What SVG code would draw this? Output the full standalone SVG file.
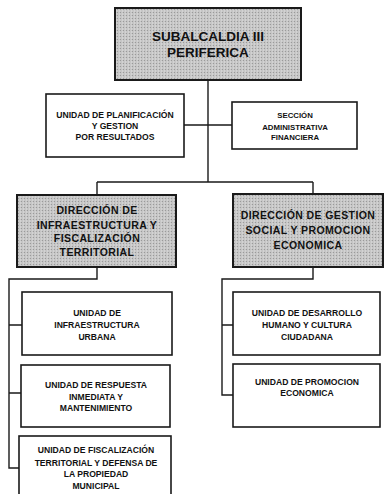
<svg xmlns="http://www.w3.org/2000/svg" width="385" height="494" viewBox="0 0 385 494">
<style>
.box{fill:#ffffff;stroke:#1a1a1a;stroke-width:1.6}
.gbox{fill:url(#dots);stroke:#1a1a1a;stroke-width:2}
.ln{fill:none;stroke:#1a1a1a;stroke-width:1.4}
text{font-family:"Liberation Sans",Arial,sans-serif;font-weight:bold;fill:#111;text-anchor:middle}
.t1{font-size:13.5px}
.t2{font-size:10.5px;letter-spacing:0.4px}
.t3{font-size:8.6px}
.t4{font-size:7.8px}
</style>
<defs>
<pattern id="dots" width="3" height="3" patternUnits="userSpaceOnUse">
<rect width="3" height="3" fill="#c6c6c6"/>
<rect width="1" height="1" fill="#9a9a9a"/>
<rect x="2" y="1.5" width="1" height="1" fill="#e0e0e0"/>
</pattern>
</defs>
<rect width="385" height="494" fill="#ffffff"/>
<g id="connectors">
<path class="ln" d="M208,80 V182 M184,125 H232 M97,182 H313 M97,182 V195 M313,182 V194"/>
<path class="ln" d="M97,267 V279 H9 V468 H19 M9,325 H22 M9,393 H21"/>
<path class="ln" d="M313,267 V279 H222 V395 H233 M222,325 H233"/>
</g>
<g id="n-subalcaldia">
<rect class="gbox" x="115" y="8" width="186" height="72"/>
<text class="t1" x="208" y="41">SUBALCALDIA III</text>
<text class="t1" x="208" y="57">PERIFERICA</text>
</g>
<g id="n-planificacion">
<rect class="box" x="46" y="94" width="138" height="63"/>
<text class="t3" x="115" y="118">UNIDAD DE PLANIFICACIÓN</text>
<text class="t3" x="115" y="129">Y GESTION</text>
<text class="t3" x="115" y="140">POR RESULTADOS</text>
</g>
<g id="n-seccion">
<rect class="box" x="232" y="102" width="125" height="47"/>
<text class="t4" x="295" y="118">SECCIÓN</text>
<text class="t4" x="295" y="130">ADMINISTRATIVA</text>
<text class="t4" x="295" y="140">FINANCIERA</text>
</g>
<g id="n-dir-infra">
<rect class="gbox" x="17" y="195" width="159" height="72"/>
<text class="t2" x="97" y="214">DIRECCIÓN DE</text>
<text class="t2" x="97" y="229">INFRAESTRUCTURA Y</text>
<text class="t2" x="97" y="242">FISCALIZACIÓN</text>
<text class="t2" x="97" y="256">TERRITORIAL</text>
</g>
<g id="n-dir-social">
<rect class="gbox" x="233" y="194" width="150" height="73"/>
<text class="t2" x="308" y="219">DIRECCIÓN DE GESTION</text>
<text class="t2" x="308" y="234">SOCIAL Y PROMOCION</text>
<text class="t2" x="308" y="249">ECONOMICA</text>
</g>
<g id="n-infra-urbana">
<rect class="box" x="22" y="292" width="150" height="63"/>
<text class="t3" x="97" y="316">UNIDAD DE</text>
<text class="t3" x="97" y="328">INFRAESTRUCTURA</text>
<text class="t3" x="97" y="340">URBANA</text>
</g>
<g id="n-respuesta">
<rect class="box" x="21" y="365" width="149" height="62"/>
<text class="t3" x="96" y="388">UNIDAD DE RESPUESTA</text>
<text class="t3" x="96" y="400">INMEDIATA Y</text>
<text class="t3" x="96" y="411">MANTENIMIENTO</text>
</g>
<g id="n-fiscalizacion">
<rect class="box" x="19" y="436" width="152" height="70"/>
<text class="t3" x="96" y="453">UNIDAD DE FISCALIZACIÓN</text>
<text class="t3" x="96" y="466">TERRITORIAL Y DEFENSA DE</text>
<text class="t3" x="96" y="477">LA PROPIEDAD</text>
<text class="t3" x="96" y="489">MUNICIPAL</text>
</g>
<g id="n-desarrollo">
<rect class="box" x="233" y="292" width="147" height="63"/>
<text class="t3" x="307" y="316">UNIDAD DE DESARROLLO</text>
<text class="t3" x="307" y="328">HUMANO Y CULTURA</text>
<text class="t3" x="307" y="340">CIUDADANA</text>
</g>
<g id="n-promocion">
<rect class="box" x="233" y="364" width="147" height="63"/>
<text class="t3" x="307" y="385">UNIDAD DE PROMOCION</text>
<text class="t3" x="307" y="396">ECONOMICA</text>
</g>
</svg>
